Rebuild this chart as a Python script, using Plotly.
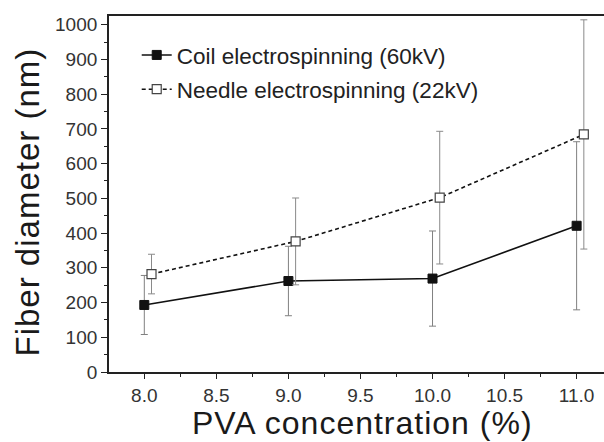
import plotly.graph_objects as go

# Data
concentration = [8.0, 9.0, 10.0, 11.0]
needle_concentration = [8.05, 9.05, 10.05, 11.05]
coil_diameter = [193, 262, 269, 421]
coil_error = [85, 100, 137, 242]
needle_diameter = [282, 376, 502, 684]
needle_error = [57, 125, 191, 330]
series_names = ["Coil electrospinning (60kV)", "Needle electrospinning (22kV)"]
x_ticks = [8.0, 8.5, 9.0, 9.5, 10.0, 10.5, 11.0]
y_ticks = [0, 100, 200, 300, 400, 500, 600, 700, 800, 900, 1000]
x_title = "PVA concentration (%)"
y_title = "Fiber diameter (nm)"

FONT = "Liberation Sans, Arial, sans-serif"

fig = go.Figure()
fig.add_trace(go.Scatter(
    x=concentration, y=coil_diameter, name=series_names[0],
    mode="lines+markers",
    line=dict(color="#111111", width=1.6),
    marker=dict(symbol="square", size=9, color="#111111",
                line=dict(color="#111111", width=1)),
    error_y=dict(type="data", array=coil_error, visible=True,
                 color="#808080", thickness=1, width=3.5),
    legendgroup="a",
))
fig.add_trace(go.Scatter(
    x=needle_concentration, y=needle_diameter, name=series_names[1],
    mode="lines+markers",
    line=dict(color="#111111", width=1.6, dash="4px,3px"),
    marker=dict(symbol="square", size=9, color="white",
                line=dict(color="#444444", width=1.2)),
    error_y=dict(type="data", array=needle_error, visible=True,
                 color="#8a8a8a", thickness=1, width=3.5),
    legendgroup="b",
))

fig.update_layout(
    width=604, height=442,
    margin=dict(l=109, r=0, t=16, b=70),
    paper_bgcolor="white", plot_bgcolor="white",
    font=dict(family=FONT, color="#222222"),
    showlegend=True,
    legend=dict(x=0.056, y=0.95, xanchor="left", yanchor="top",
                font=dict(size=22.5, color="#222222", family=FONT),
                bgcolor="rgba(0,0,0,0)", tracegroupgap=2,
                traceorder="grouped"),
    xaxis=dict(
        range=[7.755, 11.19], tickvals=x_ticks, tickformat=".1f",
        showline=True, linecolor="#222222", linewidth=1.8, mirror=True,
        ticks="outside", ticklen=5, tickwidth=1.3, tickcolor="#222222",
        minor=dict(dtick=0.25, tick0=0, ticks="outside", ticklen=3,
                   tickwidth=1.2, tickcolor="#222222"),
        showgrid=False, zeroline=False,
        tickfont=dict(size=19, color="#333333", family=FONT),
    ),
    yaxis=dict(
        range=[0, 1025], tickvals=y_ticks,
        showline=True, linecolor="#222222", linewidth=1.8, mirror=False,
        ticks="outside", ticklen=6, tickwidth=1.3, tickcolor="#222222",
        minor=dict(dtick=50, tick0=0, ticks="outside", ticklen=3,
                   tickwidth=1.2, tickcolor="#222222"),
        showgrid=False, zeroline=False,
        tickfont=dict(size=19, color="#333333", family=FONT),
    ),
    annotations=[
        dict(text='<span style="letter-spacing:1px">' + x_title + '</span>',
             xref="paper", yref="paper",
             x=(362 - 109) / 495, y=0, xanchor="center", yanchor="middle",
             yshift=-(423 - 372), showarrow=False,
             font=dict(size=32, color="#1a1a1a", family=FONT)),
        dict(text='<span style="letter-spacing:1px">' + y_title + '</span>',
             xref="paper", yref="paper",
             x=0, y=(372 - 202.5) / 356, xanchor="center", yanchor="middle",
             xshift=-(109 - 27), textangle=-90, showarrow=False,
             font=dict(size=33, color="#1a1a1a", family=FONT)),
    ],
)

fig.write_html("out.html")
